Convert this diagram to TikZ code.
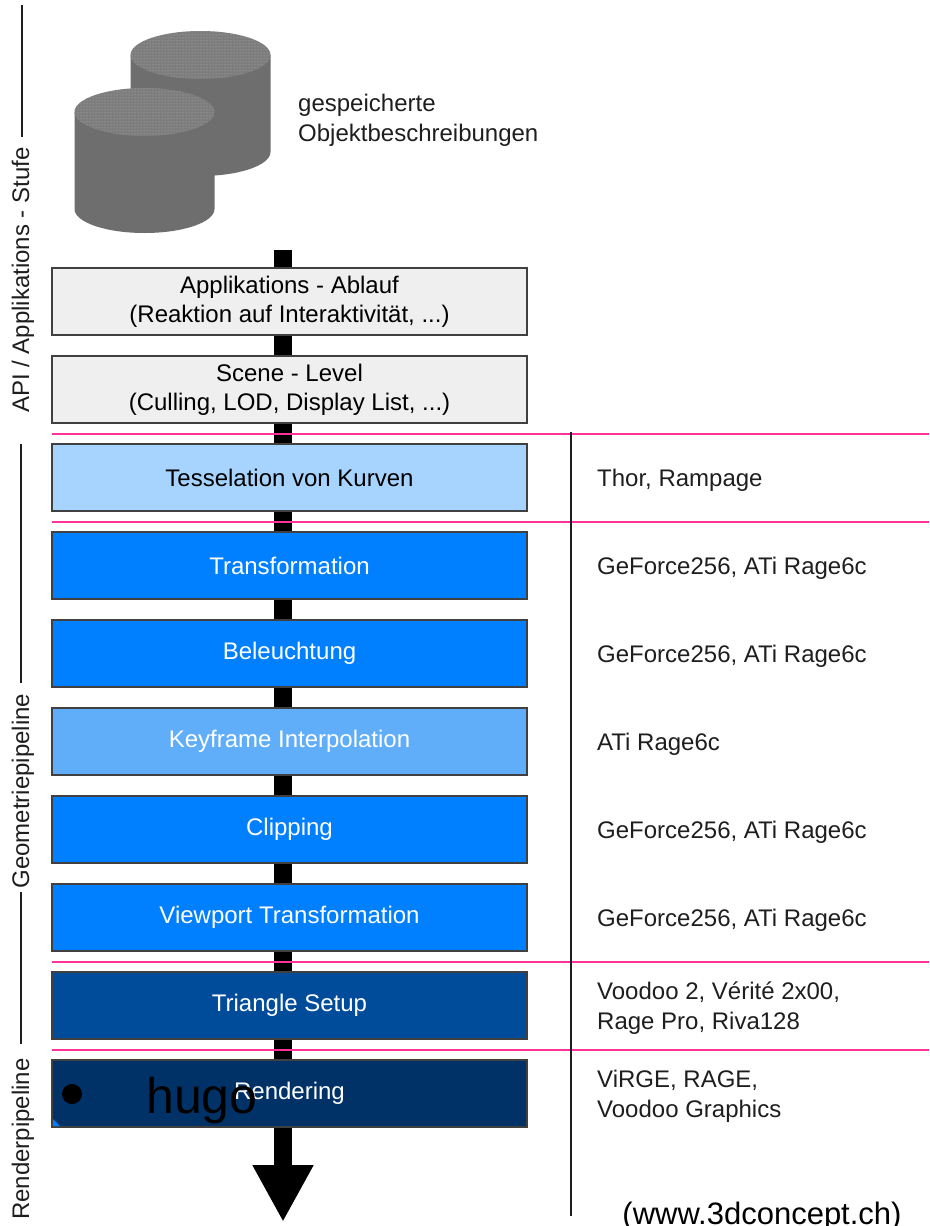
\documentclass[tikz,border=0pt]{standalone}
\usepackage{fontspec}
\setmainfont{Liberation Sans}
\usetikzlibrary{positioning,arrows.meta,calc,patterns}
\definecolor{Pale}{RGB}{239,239,239}
\definecolor{Sky}{RGB}{166,212,255}
\definecolor{Azure}{RGB}{0,128,255}
\definecolor{Soft}{RGB}{96,174,250}
\definecolor{Deep}{RGB}{0,76,155}
\definecolor{Night}{RGB}{0,50,104}
\definecolor{Rose}{RGB}{255,51,153}
\definecolor{Edge}{RGB}{64,64,64}
\definecolor{Side}{RGB}{110,110,110}
\definecolor{Lid}{RGB}{124,124,124}
\definecolor{Ink}{RGB}{30,30,30}

\begin{document}
\begin{tikzpicture}[x=1pt,y=-1pt,node distance=21pt,
 b/.style={draw=Edge,line width=1.5pt,outer sep=0pt,minimum width=475pt,minimum height=67pt,inner sep=0pt,align=center,font=\fontsize{24}{29}\selectfont},
 g/.style={b,fill=Pale,text=black},
 lb/.style={b,fill=Sky,text=black},
 mb/.style={b,fill=Azure,text=white},
 kb/.style={b,fill=Soft,text=white},
 db/.style={b,fill=Deep,text=white},
 nb/.style={b,fill=Night,text=white},
 hw/.style={right=70pt of #1,yshift=-3pt,inner sep=0pt,align=left,text=Ink,font=\fontsize{24}{30}\selectfont},
 side/.style={rotate=90,inner sep=0pt,text=Ink,font=\fontsize{24}{30}\selectfont},
 sep/.style={Rose,line width=2pt},
 rule/.style={Ink,line width=1.5pt},
 flow/.style={line width=18pt,-{Triangle[width=57pt,length=57pt]}}]
\useasboundingbox (0,0) rectangle (929,1226);

% storage cylinders
\foreach \cx/\cy in {200.5/55,144.5/112}{
 \fill[Side] ({\cx-70},\cy) -- ({\cx-70},{\cy+97}) arc[start angle=180,end angle=0,x radius=70,y radius=24] -- ({\cx+70},\cy) -- cycle;
 \fill[Lid] (\cx,\cy) ellipse[x radius=70,y radius=24];
 \fill[pattern=dots,pattern color=gray!55] (\cx,\cy) ellipse[x radius=70,y radius=24];
}
\node[anchor=north west,inner sep=0pt,align=left,text=Ink,font=\fontsize{24}{30}\selectfont] (store) at (298,94) {gespeicherte\\Objektbeschreibungen};

% pipeline flow behind the stages
\coordinate (in) at (283,250);
\coordinate (out) at (283,1222);
\draw[flow] (in) -- (out);

\node[g] (app) at (289.5,301.5) {Applikations - Ablauf\\(Reaktion auf Interaktivität, ...)};
\node[g,below=of app] (scene) {Scene - Level\\(Culling, LOD, Display List, ...)};
\node[lb,below=of scene] (tess) {Tesselation von Kurven};
\node[mb,below=of tess] (trans) {Transformation};
\node[mb,below=of trans] (light) {Beleuchtung};
\node[kb,below=of light] (key) {Keyframe Interpolation};
\node[mb,below=of key] (clip) {Clipping};
\node[mb,below=of clip] (view) {Viewport Transformation};
\node[db,below=of view] (tri) {Triangle Setup};
\node[nb,below=of tri] (rend) {Rendering};
\fill[Azure] ([xshift=1pt,yshift=1pt]rend.south west) -- ++(0,-7) -- ++(7,7) -- cycle;

% stage borders
\foreach \u/\l in {scene/tess,tess/trans,view/tri,tri/rend}
 \draw[sep] ($(\u.south west)!.5!(\l.north west)$) -- ++(877,0);
\draw[rule] (571,432) -- (571,1216);

% hardware column
\node[hw=tess] (htess) {Thor, Rampage};
\node[hw=trans] (htrans) {GeForce256, ATi Rage6c};
\node[hw=light] (hlight) {GeForce256, ATi Rage6c};
\node[hw=key] (hkey) {ATi Rage6c};
\node[hw=clip] (hclip) {GeForce256, ATi Rage6c};
\node[hw=view] (hview) {GeForce256, ATi Rage6c};
\node[hw=tri] (htri) {Voodoo 2, Vérité 2x00,\\Rage Pro, Riva128};
\node[hw=rend] (hrend) {ViRGE, RAGE,\\Voodoo Graphics};

% level captions
\draw[rule] (22,5) -- (22,137);
\node[side] (api) at (23,280) {API / Applikations - Stufe};
\draw[rule] (21,444) -- (21,683);
\node[side] (geo) at (23,791) {Geometriepipeline};
\draw[rule] (21,892) -- (21,1044);
\node[side] (ren) at (23,1139) {Renderpipeline};

\node[circle,fill=black,inner sep=0pt,minimum size=20pt] (dot) at (72,1094) {};
\node[anchor=base,inner sep=0pt,font=\fontsize{50}{60}\selectfont] (hugo) at (202,1113) {hugo};
\node[anchor=base,inner sep=0pt,font=\fontsize{31}{37}\selectfont] (src) at (762,1224) {(www.3dconcept.ch)};
\end{tikzpicture}
\end{document}
